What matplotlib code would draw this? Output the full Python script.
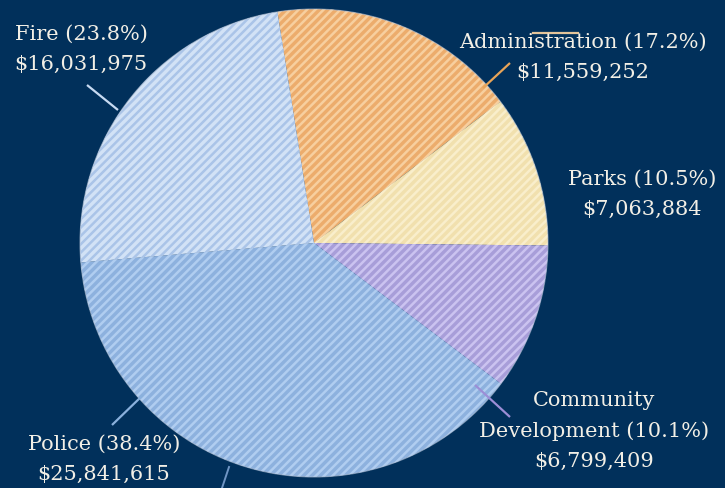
import matplotlib.pyplot as plt
import matplotlib as mpl

# budget by department (clockwise from the top)
departments = ['Administration', 'Parks', 'Community\nDevelopment', 'Police', 'Fire']
amounts = [11559252, 7063884, 6799409, 25841615, 16031975]
percents = ['17.2%', '10.5%', '10.1%', '38.4%', '23.8%']

face_colors = ['#ecac6c', '#f1e0ae', '#a89ed9', '#8db1de', '#d2e2f6']
stripe_colors = ['#f7cf9f', '#f9eecb', '#cbc3f0', '#b0cdf0', '#aac4e8']
line_colors = ['#e8a458', '#e6d39c', '#9c8ed6', '#8ab0dc', '#c7daf2']

bg = '#01305b'
text_color = '#f2efe6'

mpl.rcParams['hatch.linewidth'] = 1.8

W, H = 725, 488
fig = plt.figure(figsize=(W / 100, H / 100), dpi=100, facecolor=bg)
ax = fig.add_axes([0, 0, 1, 1])
ax.set_facecolor(bg)

cx, cy, r = 314, H - 243, 234
wedges, _ = ax.pie(amounts, colors=face_colors, startangle=99, counterclock=False,
                   center=(cx, cy), radius=r, frame=True,
                   wedgeprops=dict(linewidth=0, hatch='////'))
for w, sc in zip(wedges, stripe_colors):
    w.set_edgecolor(sc)

# thin rim around the pie
ax.add_patch(plt.Circle((cx, cy), r, fill=False, ec='#b8c6da', lw=0.8, alpha=0.6))

ax.set_xlim(0, W)
ax.set_ylim(0, H)
ax.set_aspect('equal')
ax.axis('off')

# leader lines (pixel coords, y from top)
leaders = {
    'Administration': [(510, 63), (483, 88)],
    'Community\nDevelopment': [(510, 417), (475, 385)],
    'Police': [(112, 425), (143, 395)],
    'Fire': [(87, 85), (118, 110)],
}
for name, pts in leaders.items():
    i = departments.index(name)
    xs = [p[0] for p in pts]
    ys = [H - p[1] for p in pts]
    ax.plot(xs, ys, color=line_colors[i], lw=1.6, solid_capstyle='butt')
ax.plot([533, 578], [H - 33, H - 33], color='#e3c49a', lw=1.6)
ax.plot([229, 222], [H - 467, H - 488], color='#6f95c4', lw=1.4)

# label positions: center x, y of first line (from top)
label_pos = {
    'Administration': (583, 42),
    'Parks': (642, 179),
    'Community\nDevelopment': (594, 401),
    'Police': (104, 444),
    'Fire': (81, 34),
}
step = 30
for name, amt, pct in zip(departments, amounts, percents):
    x, y = label_pos[name]
    parts = name.split('\n')
    parts[-1] = f'{parts[-1]} ({pct})'
    parts.append(f'${amt:,}')
    for k, line in enumerate(parts):
        ax.text(x, H - (y + k * step), line, ha='center', va='center',
                color=text_color, fontsize=15, family='DejaVu Serif')

fig.savefig('out.png', dpi=100, facecolor=bg)
